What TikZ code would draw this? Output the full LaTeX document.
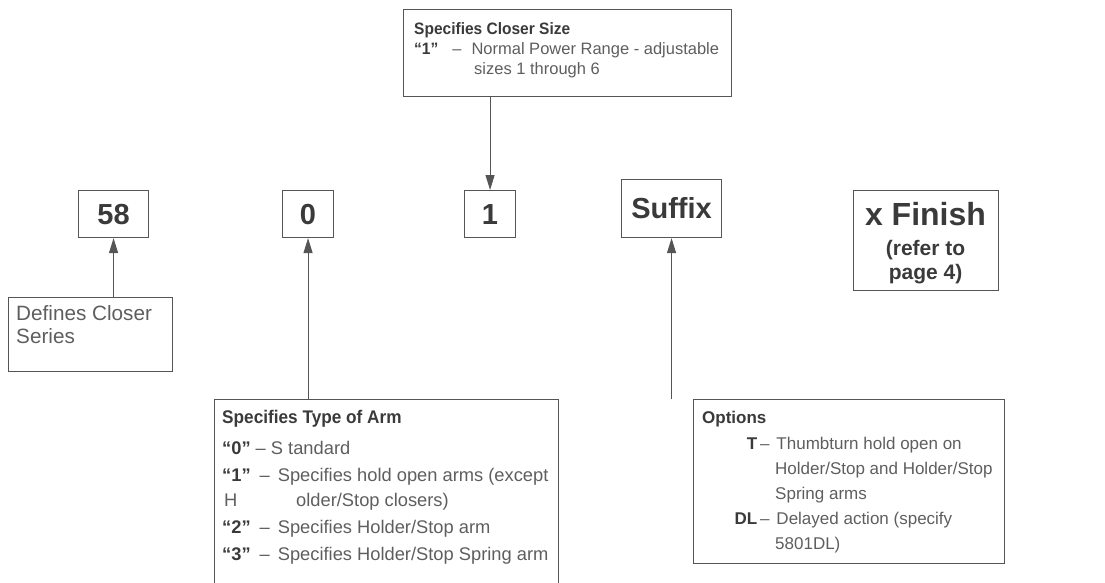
\documentclass[tikz,border=0pt]{standalone}
\usepackage{fontspec}
\setmainfont{Liberation Sans}
\newfontfamily\bnarrow{Liberation Sans Bold}[FakeStretch=0.94]
\usetikzlibrary{arrows.meta}
\definecolor{linec}{HTML}{555555}
\definecolor{bodyc}{HTML}{5E5E5E}
\definecolor{boldc}{HTML}{3A3A3A}
\newcommand\B[1]{{\bnarrow\color{boldc}#1}}
\newcommand\BW[1]{{\bfseries\color{boldc}#1}}
\tikzset{
  box/.style={draw=linec, line width=1.1pt, inner sep=0pt, anchor=north west},
  lnarm/.style={anchor=base west, inner sep=0pt, text=bodyc, font=\fontsize{18.3}{22}\selectfont},
  lnopt/.style={anchor=base west, inner sep=0pt, text=bodyc, font=\fontsize{17}{22}\selectfont},
  lnsm/.style={anchor=base west, inner sep=0pt, text=bodyc, font=\fontsize{16.5}{20}\selectfont},
  lnbig/.style={anchor=base west, inner sep=0pt, text=bodyc, font=\fontsize{20.7}{24}\selectfont},
  big/.style={text=boldc, font=\fontsize{29}{32}\selectfont\bfseries},
  fin/.style={anchor=base, inner sep=0pt, text=boldc, font=\fontsize{21}{24}\selectfont\bfseries},
  conn/.style={draw=linec, line width=1.1pt, -{Triangle[length=15pt,width=9pt]}},
}
\begin{document}
\begin{tikzpicture}[x=1pt,y=-1pt]
\useasboundingbox (0,0) rectangle (1105,582);
% top box
\node[box, minimum width=328pt, minimum height=87pt] (size) at (403,9) {};
\node[lnsm] (size1) at (414,34) {\B{Specifies Closer Size}};
\node[lnsm] (size2) at (414,54) {\B{“1”}\hspace{14pt}–\hspace{10pt}Normal Power Range - adjustable};
\node[lnsm] (size3) at (474,74) {sizes 1 through 6};
% code boxes
\node[box, big, minimum width=70pt, minimum height=47pt] (b58) at (78,190) {};
\node[big] (t58) at (b58.center) {58};
\node[box, big, minimum width=51pt, minimum height=47pt] (b0) at (282,190) {};
\node[big] (t0) at (b0.center) {0};
\node[box, big, minimum width=51pt, minimum height=47pt] (b1) at (464,190) {};
\node[big] (t1) at (b1.center) {1};
\node[box, big, minimum width=100pt, minimum height=58pt] (bsuf) at (621,179) {};
\node[big] (tsuf) at (bsuf.center) {Suffix};
\node[box, minimum width=145pt, minimum height=100pt] (bfin) at (853,190) {};
\node[anchor=base, inner sep=0pt, text=boldc, font=\fontsize{32}{34}\selectfont\bfseries] (fin1) at (925.5,225) {x Finish};
\node[fin] (fin2) at (925.5,255) {(refer to};
\node[fin] (fin3) at (925.5,279) {page 4)};
% series box
\node[box, minimum width=164pt, minimum height=74pt] (ser) at (8,297) {};
\node[lnbig] (ser1) at (16,320) {Defines Closer};
\node[lnbig] (ser2) at (16,343) {Series};
% arm box
\node[box, minimum width=344pt, minimum height=200pt] (arm) at (214,399) {};
\node[lnarm] (arm1) at (222,423) {\B{Specifies Type of Arm}};
\node[lnarm] (arm2) at (222,454) {\BW{“0”}\hspace{5pt}– S tandard};
\node[lnarm] (arm3) at (222,481) {\BW{“1”}\hspace{9pt}–\hspace{8pt}Specifies hold open arms (except};
\node[lnarm] (arm4) at (224,506) {\makebox[72pt][l]{H}older/Stop closers)};
\node[lnarm] (arm5) at (222,533) {\BW{“2”}\hspace{9pt}–\hspace{8pt}Specifies Holder/Stop arm};
\node[lnarm] (arm6) at (222,560) {\BW{“3”}\hspace{9pt}–\hspace{8pt}Specifies Holder/Stop Spring arm};
% options box
\node[box, minimum width=311pt, minimum height=164pt] (opt) at (693,399) {};
\node[lnopt] (opt1) at (702,423) {\BW{Options}};
\node[lnopt] (opt2) at (702,449) {\makebox[55pt][r]{\BW{T}}\,–\hspace{7pt}Thumbturn hold open on};
\node[lnopt] (opt3) at (775,474) {Holder/Stop and Holder/Stop};
\node[lnopt] (opt4) at (775,499) {Spring arms};
\node[lnopt] (opt5) at (702,524) {\makebox[55pt][r]{\BW{DL}}\,–\hspace{7pt}Delayed action (specify};
\node[lnopt] (opt6) at (775,549) {5801DL)};
% connectors
\draw[conn] (size.south -| b1.center) -- (b1.north);
\draw[conn] (ser.north -| b58.center) -- (b58.south);
\draw[conn] (arm.north -| b0.center) -- (b0.south);
\draw[conn] (opt.north -| bsuf.center) -- (bsuf.south);
\end{tikzpicture}
\end{document}
